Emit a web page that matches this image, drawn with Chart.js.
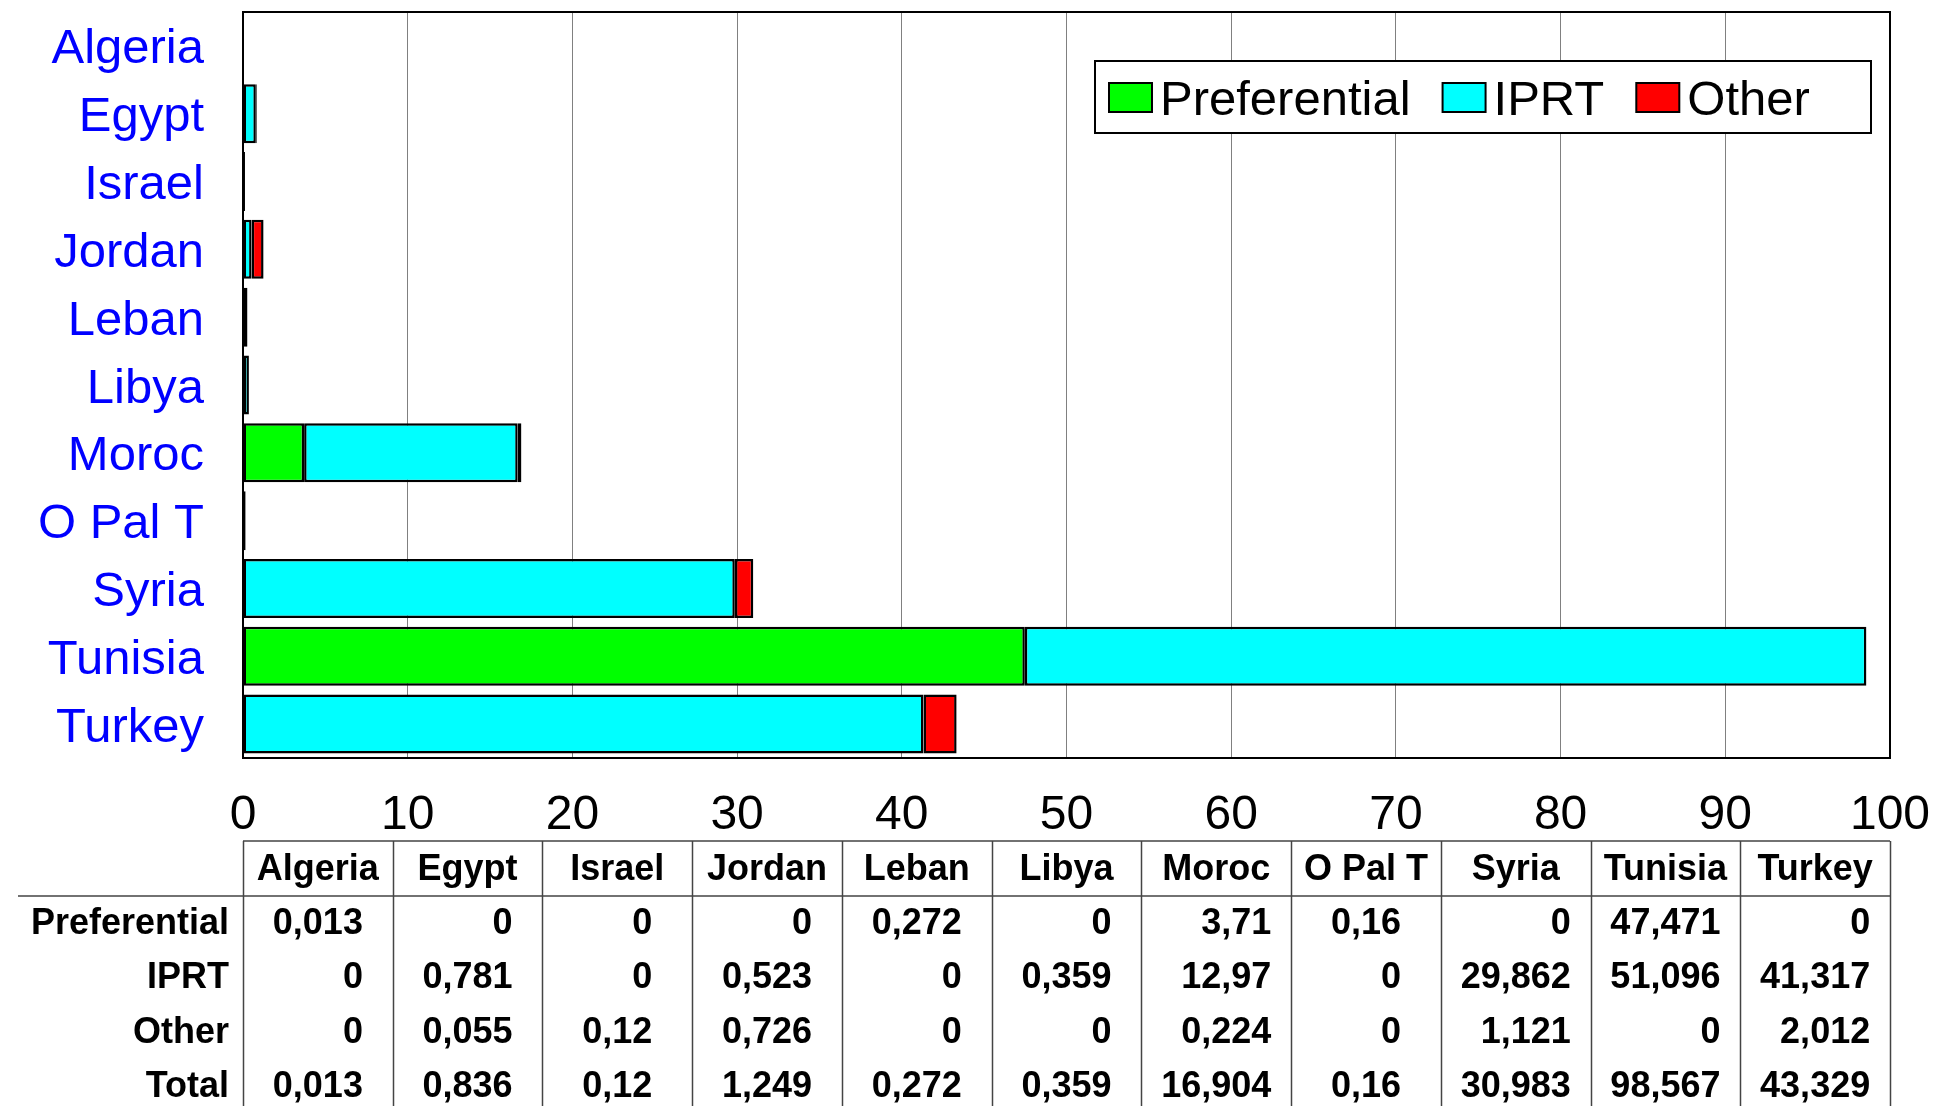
<!DOCTYPE html>
<html>
<head>
<meta charset="utf-8">
<script src="https://cdn.jsdelivr.net/npm/chart.js@4/dist/chart.umd.min.js"></script>
<style>
  html, body { margin: 0; padding: 0; background: #fff; }
  #wrap { width: 1935px; height: 1106px; }
</style>
</head>
<body>
<div id="wrap"><canvas id="myChart" width="1935" height="1106"></canvas></div>
<script>
var countries = ['Algeria', 'Egypt', 'Israel', 'Jordan', 'Leban', 'Libya', 'Moroc', 'O Pal T', 'Syria', 'Tunisia', 'Turkey'];
var preferential = [0.013, 0, 0, 0, 0.272, 0, 3.71, 0.16, 0, 47.471, 0];
var iprt = [0, 0.781, 0, 0.523, 0, 0.359, 12.97, 0, 29.862, 51.096, 41.317];
var other = [0, 0.055, 0.12, 0.726, 0, 0, 0.224, 0, 1.121, 0, 2.012];
var totals = [0.013, 0.836, 0.12, 1.249, 0.272, 0.359, 16.904, 0.16, 30.983, 98.567, 43.329];
var xTicks = [0, 10, 20, 30, 40, 50, 60, 70, 80, 90, 100];

var FONT = "'Liberation Sans', Arial, sans-serif";

function fmt(v) {
    return String(v).replace('.', ',');
}

// frame, legend box and the data table under the chart
var extras = {
    id: 'extras',
    afterDraw: function (chart) {
        var ctx = chart.ctx;
        var a = chart.chartArea;
        var ds = chart.data.datasets;
        ctx.save();

        // plot frame
        ctx.strokeStyle = '#000';
        ctx.lineWidth = 2;
        ctx.strokeRect(a.left, a.top, a.right - a.left, a.bottom - a.top);

        // legend
        var bx = a.right - 795, by = a.top + 49, bw = 776, bh = 72;
        ctx.fillStyle = '#fff';
        ctx.fillRect(bx, by, bw, bh);
        ctx.strokeRect(bx, by, bw, bh);
        ctx.font = '49px ' + FONT;
        ctx.textBaseline = 'middle';
        ctx.textAlign = 'left';
        var lx = bx + 14;
        var cy = by + bh / 2;
        for (var i = 0; i < ds.length; i++) {
            ctx.fillStyle = ds[i].backgroundColor;
            ctx.fillRect(lx, cy - 14, 43, 29);
            ctx.lineWidth = 2;
            ctx.strokeStyle = '#000';
            ctx.strokeRect(lx, cy - 14, 43, 29);
            ctx.fillStyle = '#000';
            ctx.fillText(ds[i].label, lx + 51, cy + 4);
            lx += 51 + ctx.measureText(ds[i].label).width + 32;
        }

        // data table
        var colW = (a.right - a.left) / countries.length;
        var top = a.bottom + 83;
        var sep = top + 55;
        var bottom = chart.height;
        ctx.strokeStyle = '#444';
        ctx.lineWidth = 1.5;
        ctx.beginPath();
        ctx.moveTo(a.left, top);
        ctx.lineTo(a.right, top);
        ctx.moveTo(18, sep);
        ctx.lineTo(a.right, sep);
        for (var k = 0; k <= countries.length; k++) {
            var vx = Math.round(a.left + k * colW) + 0.5;
            ctx.moveTo(vx, top);
            ctx.lineTo(vx, bottom);
        }
        ctx.stroke();

        ctx.fillStyle = '#000';
        ctx.font = 'bold 36px ' + FONT;
        ctx.textAlign = 'center';
        for (var c = 0; c < countries.length; c++) {
            ctx.fillText(countries[c], a.left + (c + 0.5) * colW, top + 29);
        }
        var rows = [
            [ds[0].label, preferential],
            [ds[1].label, iprt],
            [ds[2].label, other],
            ['Total', totals]
        ];
        // numbers are right aligned in a block as wide as the widest value, centred in the column
        var rightEdge = [];
        for (var c1 = 0; c1 < countries.length; c1++) {
            var maxW = 0;
            for (var r1 = 0; r1 < rows.length; r1++) {
                maxW = Math.max(maxW, ctx.measureText(fmt(rows[r1][1][c1])).width);
            }
            rightEdge.push(a.left + (c1 + 0.5) * colW + maxW / 2);
        }
        for (var r = 0; r < rows.length; r++) {
            var ry = sep + 28 + r * 54.3;
            ctx.textAlign = 'right';
            ctx.fillText(rows[r][0], a.left - 14, ry);
            for (var c2 = 0; c2 < countries.length; c2++) {
                ctx.fillText(fmt(rows[r][1][c2]), rightEdge[c2], ry);
            }
        }
        ctx.restore();
    }
};

var ctx = document.getElementById('myChart').getContext('2d');
var chart = new Chart(ctx, {
    type: 'bar',
    data: {
        labels: countries,
        datasets: [{
            label: 'Preferential',
            data: preferential,
            backgroundColor: '#00FF00'
        }, {
            label: 'IPRT',
            data: iprt,
            backgroundColor: '#00FFFF'
        }, {
            label: 'Other',
            data: other,
            backgroundColor: '#FF0000'
        }]
    },
    options: {
        indexAxis: 'y',
        responsive: false,
        animation: false,
        events: [],
        layout: { padding: { top: 12, right: 45, bottom: 0, left: 0 } },
        datasets: {
            bar: {
                borderColor: '#000',
                borderWidth: 2.5,
                borderSkipped: false,
                categoryPercentage: 1,
                barPercentage: 0.87
            }
        },
        plugins: {
            legend: { display: false },
            tooltip: { enabled: false }
        },
        scales: {
            x: {
                stacked: true,
                min: 0,
                max: 100,
                afterBuildTicks: function (scale) {
                    scale.ticks = xTicks.map(function (v) { return { value: v }; });
                },
                afterFit: function (scale) {
                    scale.height = 348;
                    scale.paddingLeft = 0;
                    scale.paddingRight = 0;
                },
                grid: { color: '#808080', lineWidth: 1, drawTicks: false },
                border: { display: false },
                ticks: {
                    color: '#000',
                    padding: 29,
                    maxRotation: 0,
                    font: { family: FONT, size: 48 }
                }
            },
            y: {
                stacked: true,
                afterFit: function (scale) {
                    scale.width = 243;
                    scale.paddingTop = 0;
                    scale.paddingBottom = 0;
                },
                grid: { display: false, drawTicks: false },
                border: { display: false },
                ticks: {
                    color: '#0000FF',
                    padding: 39,
                    labelOffset: 4,
                    font: { family: FONT, size: 49 }
                }
            }
        }
    },
    plugins: [extras]
});
</script>
</body>
</html>
